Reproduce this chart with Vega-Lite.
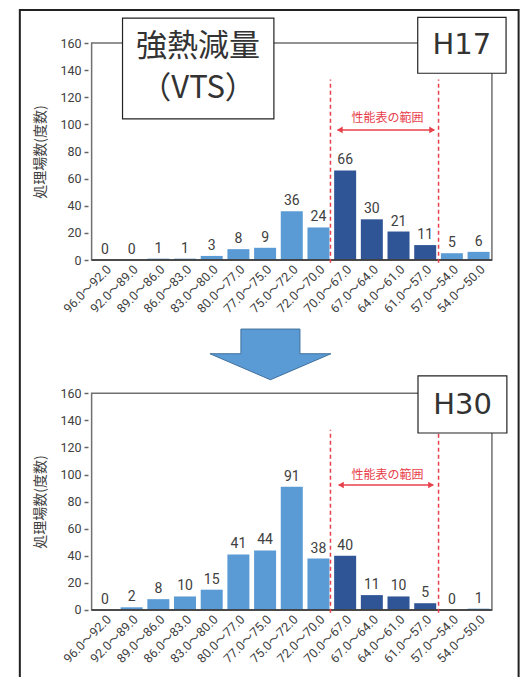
{
  "$schema": "https://vega.github.io/schema/vega-lite/v6.json",
  "width": 529,
  "height": 677,
  "autosize": {"type": "none"},
  "padding": 0,
  "background": "#ffffff",
  "config": {"view": {"stroke": null}, "axis": {"labelOverlap": false, "labelFlush": false, "labelBound": false}},
  "datasets": {
    "h17": [
      {"i": 0, "range": "96.0～92.0", "n": 0, "zone": "out"},
      {"i": 1, "range": "92.0～89.0", "n": 0, "zone": "out"},
      {"i": 2, "range": "89.0～86.0", "n": 1, "zone": "out"},
      {"i": 3, "range": "86.0～83.0", "n": 1, "zone": "out"},
      {"i": 4, "range": "83.0～80.0", "n": 3, "zone": "out"},
      {"i": 5, "range": "80.0～77.0", "n": 8, "zone": "out"},
      {"i": 6, "range": "77.0～75.0", "n": 9, "zone": "out"},
      {"i": 7, "range": "75.0～72.0", "n": 36, "zone": "out"},
      {"i": 8, "range": "72.0～70.0", "n": 24, "zone": "out"},
      {"i": 9, "range": "70.0～67.0", "n": 66, "zone": "in"},
      {"i": 10, "range": "67.0～64.0", "n": 30, "zone": "in"},
      {"i": 11, "range": "64.0～61.0", "n": 21, "zone": "in"},
      {"i": 12, "range": "61.0～57.0", "n": 11, "zone": "in"},
      {"i": 13, "range": "57.0～54.0", "n": 5, "zone": "out"},
      {"i": 14, "range": "54.0～50.0", "n": 6, "zone": "out"}
    ],
    "h30": [
      {"i": 0, "range": "96.0～92.0", "n": 0, "zone": "out"},
      {"i": 1, "range": "92.0～89.0", "n": 2, "zone": "out"},
      {"i": 2, "range": "89.0～86.0", "n": 8, "zone": "out"},
      {"i": 3, "range": "86.0～83.0", "n": 10, "zone": "out"},
      {"i": 4, "range": "83.0～80.0", "n": 15, "zone": "out"},
      {"i": 5, "range": "80.0～77.0", "n": 41, "zone": "out"},
      {"i": 6, "range": "77.0～75.0", "n": 44, "zone": "out"},
      {"i": 7, "range": "75.0～72.0", "n": 91, "zone": "out"},
      {"i": 8, "range": "72.0～70.0", "n": 38, "zone": "out"},
      {"i": 9, "range": "70.0～67.0", "n": 40, "zone": "in"},
      {"i": 10, "range": "67.0～64.0", "n": 11, "zone": "in"},
      {"i": 11, "range": "64.0～61.0", "n": 10, "zone": "in"},
      {"i": 12, "range": "61.0～57.0", "n": 5, "zone": "in"},
      {"i": 13, "range": "57.0～54.0", "n": 0, "zone": "out"},
      {"i": 14, "range": "54.0～50.0", "n": 1, "zone": "out"}
    ]
  },
  "layer": [
    {
      "layer": [
        {
          "data": {"name": "h17"},
          "mark": {"type": "bar", "width": 22},
          "encoding": {
            "x": {
              "field": "i", "type": "quantitative",
              "scale": {"domain": [-3.746, 15.702], "nice": false, "zero": false},
              "axis": {"orient": "bottom", "labels": false, "ticks": false, "domain": false, "grid": false, "title": null}
            },
            "y": {
              "field": "n", "type": "quantitative",
              "scale": {"domain": [-307.47, 191.71], "nice": false, "zero": false},
              "axis": {
                "orient": "left", "offset": -88,
                "values": [0, 20, 40, 60, 80, 100, 120, 140, 160],
                "domain": false, "grid": false,
                "tickSize": 4, "tickColor": "#666666", "tickWidth": 1.5,
                "labelFont": "Roboto, sans-serif",
                "labelFontSize": 12.5, "labelColor": "#404040", "labelPadding": 3,
                "labelOverlap": false, "labelFlush": false, "labelBound": false,
                "title": "処理場数(度数)",
                "titleFont": "Noto Sans CJK JP", "titleFontSize": 14, "titleFontWeight": "normal", "titleColor": "#404040",
                "titleX": -48, "titleY": 151.5, "titleAngle": -90, "titleAlign": "center", "titleBaseline": "middle"
              }
            },
            "y2": {"datum": 0},
            "color": {"field": "zone", "type": "nominal", "scale": {"domain": ["out", "in"], "range": ["#5b9bd5", "#2f5597"]}, "legend": null}
          }
        },
        {
          "data": {"name": "h17"},
          "mark": {"type": "text", "angle": -45, "align": "right", "baseline": "top", "font": "Roboto, Noto Sans CJK JP, sans-serif", "fontSize": 12.5, "color": "#404040"},
          "encoding": {
            "x": {"field": "i", "type": "quantitative", "scale": {"domain": [-3.746, 15.702], "nice": false, "zero": false}},
            "y": {"datum": -2.4, "type": "quantitative", "scale": {"domain": [-307.47, 191.71], "nice": false, "zero": false}},
            "text": {"field": "range"}
          }
        },
        {
          "data": {"values": [{}]},
          "mark": {"type": "rect", "fill": "transparent", "stroke": "#222222", "strokeWidth": 2},
          "encoding": {
            "x": {"datum": -3.19, "type": "quantitative", "scale": {"domain": [-3.746, 15.702], "nice": false, "zero": false}},
            "x2": {"datum": 15.5},
            "y": {"datum": 184.3, "type": "quantitative", "scale": {"domain": [-307.47, 191.71], "nice": false, "zero": false}},
            "y2": {"datum": -420}
          }
        },
        {
          "data": {"values": [{}]},
          "mark": {"type": "rect", "fill": "transparent", "stroke": "#707070", "strokeWidth": 1.5},
          "encoding": {
            "x": {"datum": -0.5, "type": "quantitative", "scale": {"domain": [-3.746, 15.702], "nice": false, "zero": false}},
            "x2": {"datum": 14.5},
            "y": {"datum": 0, "type": "quantitative", "scale": {"domain": [-307.47, 191.71], "nice": false, "zero": false}},
            "y2": {"datum": 160}
          }
        },
        {
          "data": {"values": [{}]},
          "mark": {"type": "rule", "color": "#333333", "strokeWidth": 1.5},
          "encoding": {
            "x": {"datum": -0.5, "type": "quantitative", "scale": {"domain": [-3.746, 15.702], "nice": false, "zero": false}},
            "x2": {"datum": 14.5},
            "y": {"datum": 0, "type": "quantitative", "scale": {"domain": [-307.47, 191.71], "nice": false, "zero": false}}
          }
        },
        {
          "data": {"name": "h17"},
          "mark": {"type": "text", "dy": -6, "baseline": "alphabetic", "fontSize": 14, "font": "Roboto, sans-serif", "color": "#404040"},
          "encoding": {
            "x": {"field": "i", "type": "quantitative", "scale": {"domain": [-3.746, 15.702], "nice": false, "zero": false}},
            "y": {"field": "n", "type": "quantitative", "scale": {"domain": [-307.47, 191.71], "nice": false, "zero": false}},
            "text": {"field": "n", "type": "quantitative"}
          }
        },
        {
          "data": {"values": [{"edge": 8.45}, {"edge": 12.5}]},
          "mark": {"type": "rule", "color": "#e8404b", "strokeDash": [4, 3], "strokeWidth": 1.5},
          "encoding": {
            "x": {"field": "edge", "type": "quantitative", "scale": {"domain": [-3.746, 15.702], "nice": false, "zero": false}},
            "y": {"datum": -2, "type": "quantitative", "scale": {"domain": [-307.47, 191.71], "nice": false, "zero": false}},
            "y2": {"datum": 133}
          }
        },
        {
          "data": {"values": [{}]},
          "mark": {"type": "rule", "color": "#e8404b", "strokeWidth": 1.5},
          "encoding": {
            "x": {"datum": 8.72, "type": "quantitative", "scale": {"domain": [-3.746, 15.702], "nice": false, "zero": false}},
            "x2": {"datum": 12.34},
            "y": {"datum": 95.9, "type": "quantitative", "scale": {"domain": [-307.47, 191.71], "nice": false, "zero": false}}
          }
        },
        {
          "data": {"values": [{}]},
          "mark": {"type": "point", "shape": "triangle-left", "filled": true, "size": 45, "color": "#e8404b", "opacity": 1},
          "encoding": {
            "x": {"datum": 8.8, "type": "quantitative", "scale": {"domain": [-3.746, 15.702], "nice": false, "zero": false}},
            "y": {"datum": 95.9, "type": "quantitative", "scale": {"domain": [-307.47, 191.71], "nice": false, "zero": false}}
          }
        },
        {
          "data": {"values": [{}]},
          "mark": {"type": "point", "shape": "triangle-right", "filled": true, "size": 45, "color": "#e8404b", "opacity": 1},
          "encoding": {
            "x": {"datum": 12.26, "type": "quantitative", "scale": {"domain": [-3.746, 15.702], "nice": false, "zero": false}},
            "y": {"datum": 95.9, "type": "quantitative", "scale": {"domain": [-307.47, 191.71], "nice": false, "zero": false}}
          }
        },
        {
          "data": {"values": [{"label": "性能表の範囲"}]},
          "mark": {"type": "text", "font": "Noto Sans CJK JP", "fontSize": 12, "color": "#e8404b", "baseline": "middle"},
          "encoding": {
            "x": {"datum": 10.59, "type": "quantitative", "scale": {"domain": [-3.746, 15.702], "nice": false, "zero": false}},
            "y": {"datum": 104.7, "type": "quantitative", "scale": {"domain": [-307.47, 191.71], "nice": false, "zero": false}},
            "text": {"field": "label"}
          }
        },
        {
          "data": {"values": [{}]},
          "mark": {"type": "rect", "fill": "#ffffff", "stroke": "#222222", "strokeWidth": 1.2},
          "encoding": {
            "x": {"datum": 0.658, "type": "quantitative", "scale": {"domain": [-3.746, 15.702], "nice": false, "zero": false}},
            "x2": {"datum": 6.33},
            "y": {"datum": 104.1, "type": "quantitative", "scale": {"domain": [-307.47, 191.71], "nice": false, "zero": false}},
            "y2": {"datum": 178.4}
          }
        },
        {
          "data": {"values": [{}]},
          "mark": {"type": "rect", "fill": "#ffffff", "stroke": "#222222", "strokeWidth": 1.2},
          "encoding": {
            "x": {"datum": 11.72, "type": "quantitative", "scale": {"domain": [-3.746, 15.702], "nice": false, "zero": false}},
            "x2": {"datum": 15.03},
            "y": {"datum": 137.7, "type": "quantitative", "scale": {"domain": [-307.47, 191.71], "nice": false, "zero": false}},
            "y2": {"datum": 178.9}
          }
        },
        {
          "data": {"values": [{"label": "強熱減量"}]},
          "mark": {"type": "text", "font": "Noto Sans CJK JP", "fontSize": 31, "color": "#333333", "baseline": "middle"},
          "encoding": {
            "x": {"datum": 3.49, "type": "quantitative", "scale": {"domain": [-3.746, 15.702], "nice": false, "zero": false}},
            "y": {"datum": 157.4, "type": "quantitative", "scale": {"domain": [-307.47, 191.71], "nice": false, "zero": false}},
            "text": {"field": "label"}
          }
        },
        {
          "data": {"values": [{"label": "（VTS）"}]},
          "mark": {"type": "text", "font": "Noto Sans CJK JP", "fontSize": 31, "color": "#333333", "baseline": "middle"},
          "encoding": {
            "x": {"datum": 3.49, "type": "quantitative", "scale": {"domain": [-3.746, 15.702], "nice": false, "zero": false}},
            "y": {"datum": 126.1, "type": "quantitative", "scale": {"domain": [-307.47, 191.71], "nice": false, "zero": false}},
            "text": {"field": "label"}
          }
        },
        {
          "data": {"values": [{"label": "H17"}]},
          "mark": {"type": "text", "font": "DejaVu Sans", "fontSize": 29, "color": "#333333", "baseline": "middle"},
          "encoding": {
            "x": {"datum": 13.375, "type": "quantitative", "scale": {"domain": [-3.746, 15.702], "nice": false, "zero": false}},
            "y": {"datum": 158.3, "type": "quantitative", "scale": {"domain": [-307.47, 191.71], "nice": false, "zero": false}},
            "text": {"field": "label"}
          }
        },
        {
          "data": {"values": [{}]},
          "mark": {"type": "point", "shape": "M-0.488,-0.421L0.488,-0.421L0.488,-0.013L1,-0.013L0,0.417L-1,-0.013L-0.488,-0.013Z", "filled": true, "size": 14641, "fill": "#5b9bd5", "stroke": "#41719c", "strokeWidth": 1, "opacity": 1},
          "encoding": {
            "x": {"datum": 6.2, "type": "quantitative", "scale": {"domain": [-3.746, 15.702], "nice": false, "zero": false}},
            "y": {"datum": -69.7, "type": "quantitative", "scale": {"domain": [-307.47, 191.71], "nice": false, "zero": false}}
          }
        }
      ]
    },
    {
      "layer": [
        {
          "data": {"name": "h30"},
          "mark": {"type": "bar", "width": 22},
          "encoding": {
            "x": {
              "field": "i", "type": "quantitative",
              "scale": {"domain": [-3.746, 15.702], "nice": false, "zero": false},
              "axis": {"orient": "bottom", "labels": false, "ticks": false, "domain": false, "grid": false, "title": null}
            },
            "y": {
              "field": "n", "type": "quantitative",
              "scale": {"domain": [-49.47, 450.38], "nice": false, "zero": false},
              "axis": {
                "orient": "left", "offset": -88,
                "values": [0, 20, 40, 60, 80, 100, 120, 140, 160],
                "domain": false, "grid": false,
                "tickSize": 4, "tickColor": "#666666", "tickWidth": 1.5,
                "labelFont": "Roboto, sans-serif",
                "labelFontSize": 12.5, "labelColor": "#404040", "labelPadding": 3,
                "labelOverlap": false, "labelFlush": false, "labelBound": false,
                "title": "処理場数(度数)",
                "titleFont": "Noto Sans CJK JP", "titleFontSize": 14, "titleFontWeight": "normal", "titleColor": "#404040",
                "titleX": -48, "titleY": 501.5, "titleAngle": -90, "titleAlign": "center", "titleBaseline": "middle"
              }
            },
            "y2": {"datum": 0},
            "color": {"field": "zone", "type": "nominal", "scale": {"domain": ["out", "in"], "range": ["#5b9bd5", "#2f5597"]}, "legend": null}
          }
        },
        {
          "data": {"name": "h30"},
          "mark": {"type": "text", "angle": -45, "align": "right", "baseline": "top", "font": "Roboto, Noto Sans CJK JP, sans-serif", "fontSize": 12.5, "color": "#404040"},
          "encoding": {
            "x": {"field": "i", "type": "quantitative", "scale": {"domain": [-3.746, 15.702], "nice": false, "zero": false}},
            "y": {"datum": -2.4, "type": "quantitative", "scale": {"domain": [-49.47, 450.38], "nice": false, "zero": false}},
            "text": {"field": "range"}
          }
        },
        {
          "data": {"values": [{}]},
          "mark": {"type": "rect", "fill": "transparent", "stroke": "#707070", "strokeWidth": 1.5},
          "encoding": {
            "x": {"datum": -0.5, "type": "quantitative", "scale": {"domain": [-3.746, 15.702], "nice": false, "zero": false}},
            "x2": {"datum": 14.5},
            "y": {"datum": 0, "type": "quantitative", "scale": {"domain": [-49.47, 450.38], "nice": false, "zero": false}},
            "y2": {"datum": 160}
          }
        },
        {
          "data": {"values": [{}]},
          "mark": {"type": "rule", "color": "#333333", "strokeWidth": 1.5},
          "encoding": {
            "x": {"datum": -0.5, "type": "quantitative", "scale": {"domain": [-3.746, 15.702], "nice": false, "zero": false}},
            "x2": {"datum": 14.5},
            "y": {"datum": 0, "type": "quantitative", "scale": {"domain": [-49.47, 450.38], "nice": false, "zero": false}}
          }
        },
        {
          "data": {"name": "h30"},
          "mark": {"type": "text", "dy": -6, "baseline": "alphabetic", "fontSize": 14, "font": "Roboto, sans-serif", "color": "#404040"},
          "encoding": {
            "x": {"field": "i", "type": "quantitative", "scale": {"domain": [-3.746, 15.702], "nice": false, "zero": false}},
            "y": {"field": "n", "type": "quantitative", "scale": {"domain": [-49.47, 450.38], "nice": false, "zero": false}},
            "text": {"field": "n", "type": "quantitative"}
          }
        },
        {
          "data": {"values": [{"edge": 8.45}, {"edge": 12.5}]},
          "mark": {"type": "rule", "color": "#e8404b", "strokeDash": [4, 3], "strokeWidth": 1.5},
          "encoding": {
            "x": {"field": "edge", "type": "quantitative", "scale": {"domain": [-3.746, 15.702], "nice": false, "zero": false}},
            "y": {"datum": -2, "type": "quantitative", "scale": {"domain": [-49.47, 450.38], "nice": false, "zero": false}},
            "y2": {"datum": 133}
          }
        },
        {
          "data": {"values": [{}]},
          "mark": {"type": "rule", "color": "#e8404b", "strokeWidth": 1.5},
          "encoding": {
            "x": {"datum": 8.76, "type": "quantitative", "scale": {"domain": [-3.746, 15.702], "nice": false, "zero": false}},
            "x2": {"datum": 12.3},
            "y": {"datum": 92.3, "type": "quantitative", "scale": {"domain": [-49.47, 450.38], "nice": false, "zero": false}}
          }
        },
        {
          "data": {"values": [{}]},
          "mark": {"type": "point", "shape": "triangle-left", "filled": true, "size": 45, "color": "#e8404b", "opacity": 1},
          "encoding": {
            "x": {"datum": 8.84, "type": "quantitative", "scale": {"domain": [-3.746, 15.702], "nice": false, "zero": false}},
            "y": {"datum": 92.3, "type": "quantitative", "scale": {"domain": [-49.47, 450.38], "nice": false, "zero": false}}
          }
        },
        {
          "data": {"values": [{}]},
          "mark": {"type": "point", "shape": "triangle-right", "filled": true, "size": 45, "color": "#e8404b", "opacity": 1},
          "encoding": {
            "x": {"datum": 12.22, "type": "quantitative", "scale": {"domain": [-3.746, 15.702], "nice": false, "zero": false}},
            "y": {"datum": 92.3, "type": "quantitative", "scale": {"domain": [-49.47, 450.38], "nice": false, "zero": false}}
          }
        },
        {
          "data": {"values": [{"label": "性能表の範囲"}]},
          "mark": {"type": "text", "font": "Noto Sans CJK JP", "fontSize": 12, "color": "#e8404b", "baseline": "middle"},
          "encoding": {
            "x": {"datum": 10.59, "type": "quantitative", "scale": {"domain": [-3.746, 15.702], "nice": false, "zero": false}},
            "y": {"datum": 99.7, "type": "quantitative", "scale": {"domain": [-49.47, 450.38], "nice": false, "zero": false}},
            "text": {"field": "label"}
          }
        },
        {
          "data": {"values": [{}]},
          "mark": {"type": "rect", "fill": "#ffffff", "stroke": "#222222", "strokeWidth": 1.2},
          "encoding": {
            "x": {"datum": 11.73, "type": "quantitative", "scale": {"domain": [-3.746, 15.702], "nice": false, "zero": false}},
            "x2": {"datum": 15.06},
            "y": {"datum": 130.7, "type": "quantitative", "scale": {"domain": [-49.47, 450.38], "nice": false, "zero": false}},
            "y2": {"datum": 172.8}
          }
        },
        {
          "data": {"values": [{"label": "H30"}]},
          "mark": {"type": "text", "font": "DejaVu Sans", "fontSize": 29, "color": "#333333", "baseline": "middle"},
          "encoding": {
            "x": {"datum": 13.4, "type": "quantitative", "scale": {"domain": [-3.746, 15.702], "nice": false, "zero": false}},
            "y": {"datum": 151.7, "type": "quantitative", "scale": {"domain": [-49.47, 450.38], "nice": false, "zero": false}},
            "text": {"field": "label"}
          }
        }
      ]
    }
  ],
  "resolve": {
    "scale": {"x": "independent", "y": "independent"},
    "axis": {"x": "independent", "y": "independent"}
  }
}
